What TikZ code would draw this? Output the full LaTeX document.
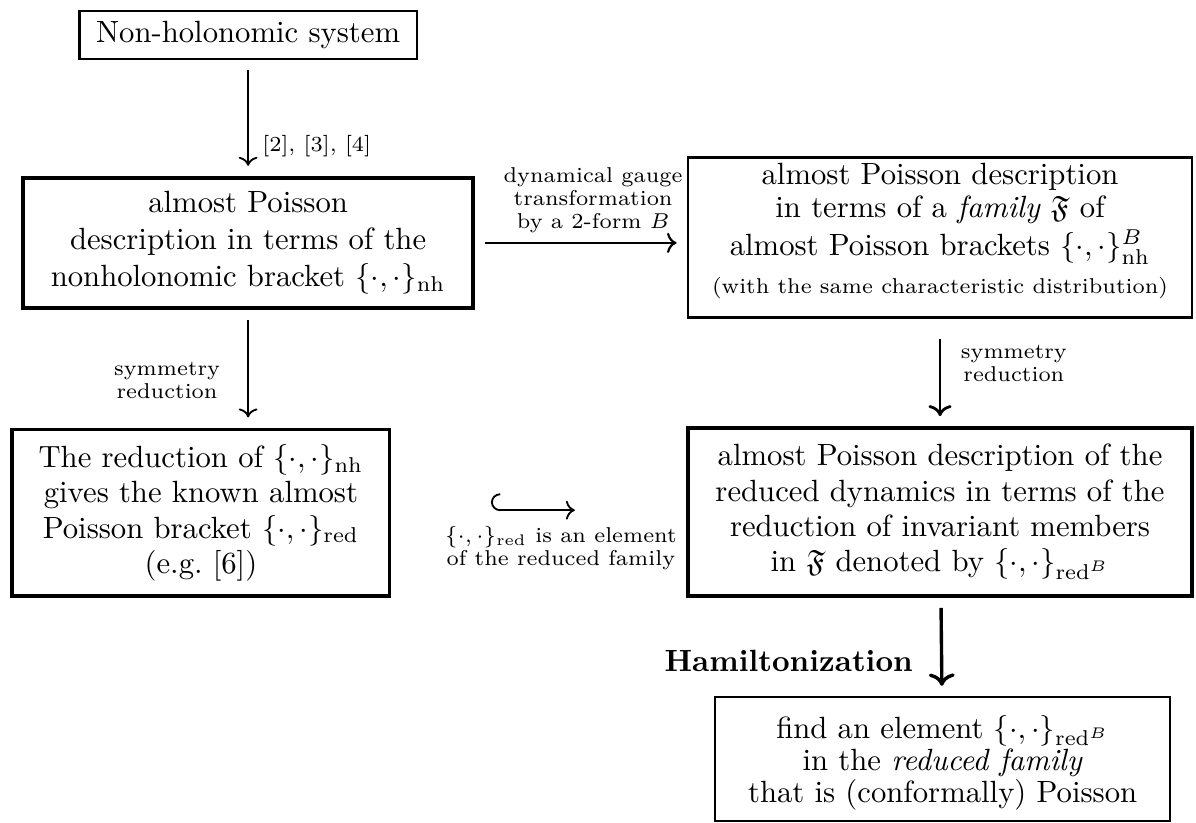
\documentclass[tikz,border=0pt]{standalone}
\usepackage{amssymb}
\usepackage{tikz}
\usetikzlibrary{arrows.meta}

\begin{document}
\begin{tikzpicture}[
      box/.style={draw,line width=0.8pt,align=center,inner sep=2pt,
                  font=\fontsize{10}{10.5}\selectfont},
      boldbox/.style={box,line width=1.2pt,font=\fontsize{10}{11.5}\selectfont},
      lbl/.style={font=\fontsize{7}{7.5}\selectfont,align=center},
      flow/.style={->,line width=0.6pt,shorten <=3.3pt,shorten >=3.3pt}]
    \useasboundingbox (0,0) rectangle (13.69,-9.42);
    % boxes
    \node[box,minimum width=3.86cm,minimum height=0.55cm] (nhs) at (2.84,-0.40)
      {Non-holonomic system};
    \node[boldbox,minimum width=5.15cm,minimum height=1.49cm,
          font=\fontsize{10}{12}\selectfont] (apd) at (2.84,-2.78)
      {almost Poisson\\ description in terms of the\\
       nonholonomic bracket $\{\cdot,\cdot\}_{\mathrm{nh}}$};
    \node[box,minimum width=5.77cm,minimum height=1.83cm,inner sep=1pt,
          text depth=6pt,font=\fontsize{10}{10.8}\selectfont] (fam) at (10.76,-2.72)
      {almost Poisson description\\ in terms of a \emph{family} $\mathfrak{F}$ of\\[1.5pt]
       almost Poisson brackets $\{\cdot,\cdot\}^B_{\mathrm{nh}}$\\[1.5pt]
       {\scriptsize (with the same characteristic distribution)}};
    \node[boldbox,minimum width=4.32cm,minimum height=1.91cm] (rednh) at (2.30,-5.87)
      {The reduction of $\{\cdot,\cdot\}_{\mathrm{nh}}$\\ gives the known almost\\
       Poisson bracket $\{\cdot,\cdot\}_{\mathrm{red}}$\\ (e.g.\ [6])};
    \node[boldbox,minimum width=5.77cm,minimum height=1.92cm] (redfam) at (10.76,-5.86)
      {almost Poisson description of the\\ reduced dynamics in terms of the\\
       reduction of invariant members\\
       in $\mathfrak{F}$ denoted by $\{\cdot,\cdot\}_{\mathrm{red}^B}$};
    \node[box,minimum width=5.21cm,minimum height=1.42cm,text depth=0pt] (find) at (10.79,-8.69)
      {find an element $\{\cdot,\cdot\}_{\mathrm{red}^B}$\\ in the \emph{reduced family}\\
       that is (conformally) Poisson};
    % connectors
    \draw[flow] (nhs) -- (apd)
      node[lbl,right,pos=0.74,xshift=1pt] {[2], [3], [4]};
    \draw[flow,line width=0.7pt] (apd.east) -- (apd.east -| fam.west)
      node[lbl,midway,above,yshift=-0.5pt,xshift=4pt]
        {dynamical gauge\\ transformation\\ by a 2-form $B$};
    \draw[flow] (apd.south) -- (apd.south |- rednh.north)
      node[lbl,left,pos=0.6,xshift=-5.5pt] {symmetry\\ reduction};
    \draw[flow,line width=0.9pt,shorten <=6.5pt] (fam.south) -- (fam.south |- redfam.north)
      node[lbl,right,pos=0.42,xshift=3pt] {symmetry\\ reduction};
    \draw[flow,line width=1.1pt] (redfam) -- (find)
      node[left,pos=0.64,xshift=-5.5pt,font=\bfseries] {Hamiltonization};
    \coordinate (hk0) at (5.62,-5.84);
    \coordinate (hk1) at (6.58,-5.84);
    \draw[{Hooks[right,width=11pt,length=3pt]}->,line width=0.6pt] (hk0) -- (hk1);
    \node[lbl] (elem) at (6.42,-6.27)
      {$\{\cdot,\cdot\}_{\mathrm{red}}$ is an element\\ of the reduced family};
\end{tikzpicture}
\end{document}
